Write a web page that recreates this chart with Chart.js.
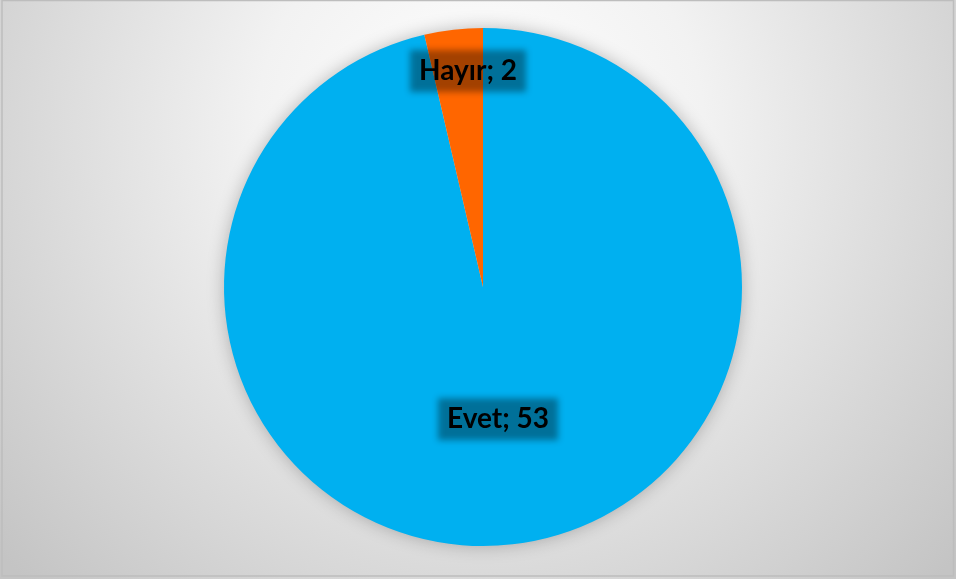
<!DOCTYPE html>
<html>
<head>
<meta charset="utf-8">
<script src="https://cdn.jsdelivr.net/npm/chart.js@4/dist/chart.umd.min.js"></script>
<style>
  html, body { margin: 0; padding: 0; background: #fff; }
  #wrap { width: 956px; height: 579px; position: relative; }
</style>
</head>
<body>
<div id="wrap"><canvas id="pie"></canvas></div>
<script>
// Veriler
const categories = ['Evet', 'Hayır'];
const values = [53, 2];
const sliceColors = ['#00B0F0', '#FF6600'];

// Etiket yerleşimi (yarıçap oranı, açı kayması derece)
const labelRadius = [0.51, 0.84];
const labelShift = [0, 2.6];

// Arka plan: radyal gri degrade + ince çerçeve
const backgroundPlugin = {
    id: 'bg',
    beforeDraw(chart) {
        const { ctx, width, height } = chart;
        ctx.save();
        const g = ctx.createRadialGradient(480, 130, 0, 480, 130, 640);
        g.addColorStop(0, '#ffffff');
        g.addColorStop(0.35, '#f2f2f2');
        g.addColorStop(1, '#c4c4c4');
        ctx.fillStyle = g;
        ctx.fillRect(0, 0, width, height);
        ctx.strokeStyle = '#bdbdbd';
        ctx.lineWidth = 1.5;
        ctx.strokeRect(2, 0.5, width - 4.5, height - 3.5);
        ctx.restore();
    },
    // pastanın çevresindeki yumuşak gölge
    beforeDatasetsDraw(chart) {
        const arc = chart.getDatasetMeta(0).data[0];
        if (!arc) return;
        const { ctx } = chart;
        ctx.save();
        ctx.shadowColor = 'rgba(0,0,0,0.28)';
        ctx.shadowBlur = 18;
        ctx.fillStyle = '#d8d8d8';
        ctx.beginPath();
        ctx.arc(arc.x, arc.y, arc.outerRadius - 1, 0, Math.PI * 2);
        ctx.fill();
        ctx.restore();
    }
};

// Veri etiketleri: "Kategori; değer" + bulanık koyu kutu
const labelPlugin = {
    id: 'sliceLabels',
    afterDatasetsDraw(chart) {
        const { ctx } = chart;
        const meta = chart.getDatasetMeta(0);
        meta.data.forEach((arc, i) => {
            const { x, y, startAngle, endAngle, outerRadius } = arc.getProps(['x', 'y', 'startAngle', 'endAngle', 'outerRadius'], true);
            const mid = (startAngle + endAngle) / 2 + labelShift[i] * Math.PI / 180;
            const r = outerRadius * labelRadius[i];
            const cx = x + Math.cos(mid) * r;
            const cy = y + Math.sin(mid) * r;
            const text = categories[i] + '; ' + values[i];

            ctx.save();
            ctx.font = 'bold 28px Lato, "Liberation Sans", sans-serif';
            const w = ctx.measureText(text).width;
            ctx.filter = 'blur(3px)';
            ctx.fillStyle = 'rgba(0,0,0,0.36)';
            ctx.fillRect(cx - w / 2 - 9, cy - 20, w + 18, 42);
            ctx.filter = 'none';
            ctx.fillStyle = '#000';
            ctx.textAlign = 'center';
            ctx.textBaseline = 'middle';
            ctx.fillText(text, cx, cy + 1);
            ctx.restore();
        });
    }
};

new Chart(document.getElementById('pie'), {
    type: 'pie',
    data: {
        labels: categories,
        datasets: [{
            data: values,
            backgroundColor: sliceColors,
            borderWidth: 0
        }]
    },
    options: {
        responsive: true,
        maintainAspectRatio: false,
        animation: false,
        layout: { padding: { left: 10, right: 0, top: 28, bottom: 33 } },
        plugins: {
            legend: { display: false },
            tooltip: { enabled: false }
        }
    },
    plugins: [backgroundPlugin, labelPlugin]
});
</script>
</body>
</html>
